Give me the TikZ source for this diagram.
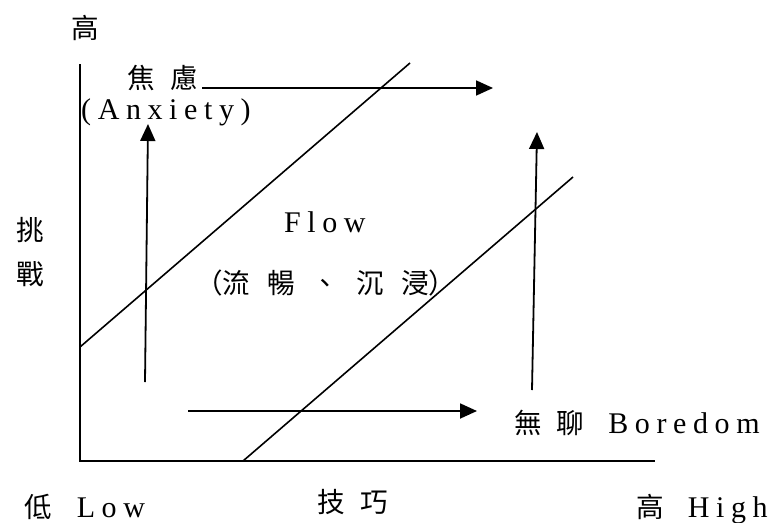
\documentclass[tikz,border=0pt]{standalone}
\usepackage{fontspec}
\setmainfont{Liberation Serif}[LetterSpace=22]
\newfontfamily\cjk{Noto Sans CJK TC}[Scale=0.92]
\usetikzlibrary{arrows.meta}
\tikzset{
  axis/.style={line width=2pt},
  diag/.style={line width=1.6pt},
  arr/.style={line width=1.8pt,-{Triangle[length=17pt,width=15pt]}},
  lbl/.style={inner sep=0pt,font=\fontsize{30}{34}\selectfont},
}
\begin{document}
\begin{tikzpicture}[x=1pt,y=-1pt]
\useasboundingbox (0,0) rectangle (773,522);
% axes
\coordinate (top) at (80,64);
\coordinate (origin) at (80,461);
\coordinate (right) at (655,461);
\draw[axis] (top) -- (origin) -- (right);
% diagonal channel lines
\coordinate (d1a) at (80,347);
\coordinate (d1b) at (410,63);
\coordinate (d2a) at (243,461);
\coordinate (d2b) at (573,177);
\draw[diag] (d1a) -- (d1b);
\draw[diag] (d2a) -- (d2b);
% labels
\node[lbl] (hi) at (85,28) {\cjk 高};
\node[lbl] (anx) at (163,78) {\cjk 焦\hspace{15pt}慮};
\node[lbl,anchor=base west] (anxe) at (81,119) {(Anxiety)};
\node[lbl] (tiao) at (30,230) {\cjk 挑};
\node[lbl] (zhan) at (30,274) {\cjk 戰};
\node[lbl,anchor=base west] (flow) at (284,232) {Flow};
\node[lbl,anchor=west] (flowc) at (195,283) {\cjk （流\hspace{17pt}暢\hspace{17pt}、\hspace{17pt}沉\hspace{17pt}浸）};
\node[lbl,anchor=base west] (bore) at (514,433) {{\cjk 無\hspace{15pt}聊}\hspace{24pt}Boredom};
\node[lbl,anchor=base west] (low) at (24,517) {{\cjk 低}\hspace{25pt}Low};
\node[lbl] (skill) at (353,502) {\cjk 技\hspace{16pt}巧};
\node[lbl,anchor=base west] (high) at (636,517) {{\cjk 高}\hspace{24pt}High};
% arrows
\coordinate (a1s) at (202,88);
\coordinate (a1e) at (493,88);
\draw[arr] (a1s) -- (a1e);
\coordinate (a2s) at (145,382);
\coordinate (a2e) at (148,124);
\draw[arr] (a2s) -- (a2e);
\coordinate (a3s) at (188,411);
\coordinate (a3e) at (477,411);
\draw[arr] (a3s) -- (a3e);
\coordinate (a4s) at (532,390);
\coordinate (a4e) at (537,132);
\draw[arr] (a4s) -- (a4e);
\end{tikzpicture}
\end{document}
